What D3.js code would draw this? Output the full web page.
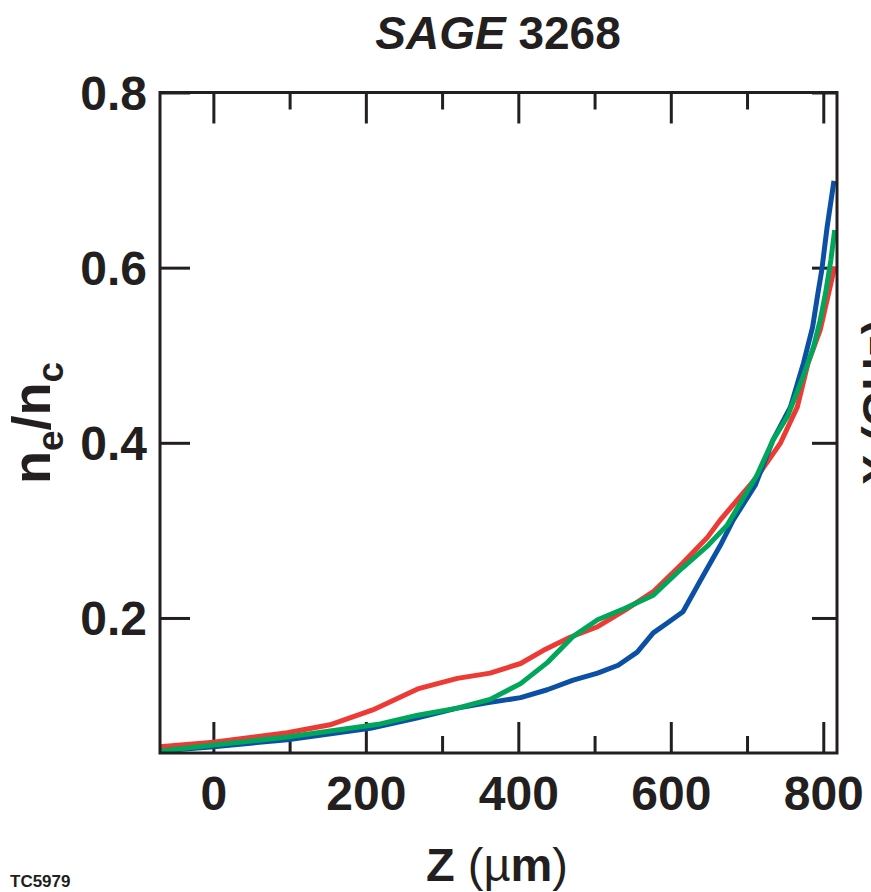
<!DOCTYPE html>
<html>
<head>
<meta charset="utf-8">
<script src="https://cdn.jsdelivr.net/npm/d3@7"></script>
<style>
    html, body { margin: 0; padding: 0; background: #fff; }
    svg { display: block; font-family: "Liberation Sans", Arial, Helvetica, sans-serif; }
    .axis path { display: none; }
    .axis line { stroke: #231f20; stroke-width: 3; }
    .axis text { fill: #231f20; font-size: 48px; font-weight: bold; }
    .frame { fill: none; stroke: #231f20; stroke-width: 3; }
    .series { fill: none; stroke-width: 5; stroke-linejoin: round; }
</style>
</head>
<body>
<div id="chart"></div>
<script>
// tick values
const majorZTicks = [0, 200, 400, 600, 800];
const minorZTicks = [100, 300, 500, 700];
const densityTicks = [0.2, 0.4, 0.6, 0.8];

// red profile
const redZ = [-70, 0, 97, 153, 209, 268, 320, 363, 403, 433, 468, 504, 540, 577, 616, 648, 665, 713, 744, 766, 780, 796, 805, 815];
const redN = [0.053, 0.058, 0.069, 0.078, 0.095, 0.119, 0.131, 0.137, 0.148, 0.163, 0.178, 0.190, 0.209, 0.230, 0.263, 0.292, 0.312, 0.361, 0.400, 0.441, 0.491, 0.529, 0.563, 0.601];

// blue profile
const blueZ = [-70, 0, 97, 206, 268, 320, 359, 403, 438, 472, 504, 531, 556, 577, 595, 616, 639, 665, 682, 711, 734, 757, 774, 786, 793, 798, 805, 814];
const blueN = [0.048, 0.053, 0.061, 0.074, 0.086, 0.097, 0.103, 0.109, 0.118, 0.129, 0.137, 0.146, 0.161, 0.183, 0.194, 0.207, 0.243, 0.283, 0.312, 0.352, 0.403, 0.441, 0.491, 0.532, 0.571, 0.597, 0.646, 0.699];

// green profile
const greenZ = [-70, 0, 97, 219, 268, 320, 363, 403, 438, 472, 504, 540, 577, 615, 649, 674, 713, 734, 753, 772, 787, 796, 803, 810, 815];
const greenN = [0.048, 0.055, 0.064, 0.079, 0.089, 0.097, 0.107, 0.125, 0.149, 0.179, 0.198, 0.211, 0.226, 0.257, 0.283, 0.306, 0.363, 0.403, 0.430, 0.472, 0.509, 0.540, 0.571, 0.609, 0.643];

const series = [
    {name: 'red', color: '#ee3a35', z: redZ, n: redN},
    {name: 'blue', color: '#0b50a4', z: blueZ, n: blueN},
    {name: 'green', color: '#00a65a', z: greenZ, n: greenN}
];

const width = 871;
const height = 892;
const margin = {top: 92.5, right: 34, bottom: 139, left: 160};
const plotW = width - margin.left - margin.right;
const plotH = height - margin.top - margin.bottom;

const x = d3.scaleLinear().domain([-70, 818]).range([0, plotW]);
const y = d3.scaleLinear().domain([0.0458, 0.8]).range([plotH, 0]);

const svg = d3.select('#chart').append('svg')
    .attr('width', width)
    .attr('height', height);

const g = svg.append('g')
    .attr('transform', 'translate(' + margin.left + ',' + margin.top + ')');

// bottom axis, long ticks carry the labels
const xBottom = g.append('g')
    .attr('class', 'axis')
    .attr('transform', 'translate(0,' + plotH + ')')
    .call(d3.axisBottom(x).tickValues(majorZTicks).tickSize(-31).tickFormat(d3.format('d')));
xBottom.selectAll('text').attr('y', 57).attr('dy', 0);

g.append('g')
    .attr('class', 'axis')
    .attr('transform', 'translate(0,' + plotH + ')')
    .call(d3.axisBottom(x).tickValues(minorZTicks).tickSize(-17).tickFormat(''));

// top axis
g.append('g')
    .attr('class', 'axis')
    .call(d3.axisTop(x).tickValues(majorZTicks).tickSize(-31).tickFormat(''));

g.append('g')
    .attr('class', 'axis')
    .call(d3.axisTop(x).tickValues(minorZTicks).tickSize(-17).tickFormat(''));

// left axis
const yLeft = g.append('g')
    .attr('class', 'axis')
    .call(d3.axisLeft(y).tickValues(densityTicks).tickSize(-30).tickFormat(d3.format('.1f')));
yLeft.selectAll('text').attr('x', -13).attr('dy', 17);

// right axis
g.append('g')
    .attr('class', 'axis')
    .attr('transform', 'translate(' + plotW + ',0)')
    .call(d3.axisRight(y).tickValues(densityTicks).tickSize(-25).tickFormat(''));

const line = d3.line()
    .x(d => x(d[0]))
    .y(d => y(d[1]));

series.forEach(s => {
    g.append('path')
        .datum(d3.zip(s.z, s.n))
        .attr('class', 'series')
        .attr('stroke', s.color)
        .attr('d', line);
});

g.append('rect')
    .attr('class', 'frame')
    .attr('width', plotW)
    .attr('height', plotH);

// title
const title = svg.append('text')
    .attr('x', 498)
    .attr('y', 49)
    .attr('text-anchor', 'middle')
    .attr('font-size', 46)
    .attr('font-weight', 'bold')
    .attr('fill', '#231f20');
title.append('tspan').attr('font-style', 'italic').text('SAGE');
title.append('tspan').text(' 3268');

// y label n_e/n_c
const yLabel = svg.append('text')
    .attr('transform', 'translate(50,423) rotate(-90)')
    .attr('text-anchor', 'middle')
    .attr('font-size', 54)
    .attr('font-weight', 'bold')
    .attr('fill', '#231f20');
yLabel.append('tspan').text('n');
yLabel.append('tspan').attr('font-size', 37).attr('dy', 13).text('e');
yLabel.append('tspan').attr('dy', -13).text('/n');
yLabel.append('tspan').attr('font-size', 37).attr('dy', 13).text('c');

// x label Z (µm)
const xLabel = svg.append('text')
    .attr('x', 497)
    .attr('y', 881)
    .attr('text-anchor', 'middle')
    .attr('font-size', 47)
    .attr('fill', '#231f20');
xLabel.append('tspan').attr('font-weight', 'bold').text('Z ');
xLabel.append('tspan').text('(µ');
xLabel.append('tspan').attr('font-weight', 'bold').text('m');
xLabel.append('tspan').text(')');

// neighbouring panel label, cut by the page edge
svg.append('text')
    .attr('transform', 'translate(895,485) rotate(-90)')
    .attr('font-size', 46)
    .attr('font-weight', 'bold')
    .attr('fill', '#231f20')
    .text('X (GHz)');

svg.append('text')
    .attr('x', 10)
    .attr('y', 887)
    .attr('font-size', 17)
    .attr('font-weight', 'bold')
    .attr('fill', '#231f20')
    .text('TC5979');
</script>
</body>
</html>
